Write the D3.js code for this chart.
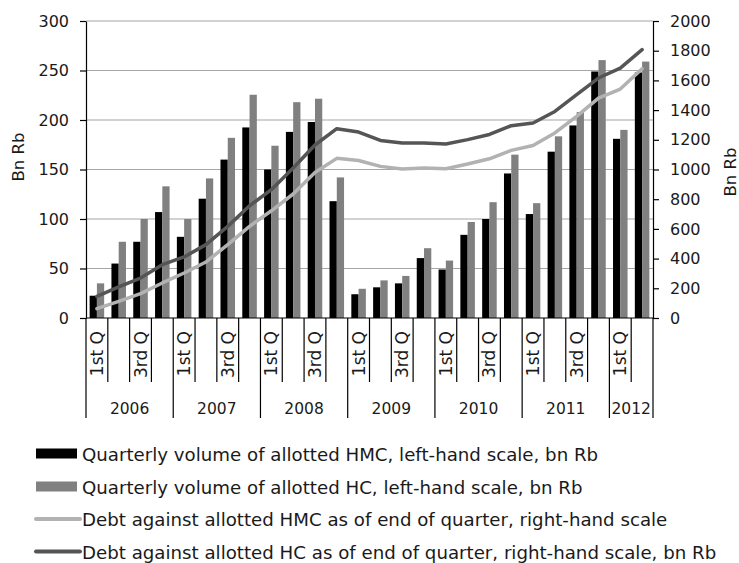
<!DOCTYPE html>
<html>
<head>
<meta charset="utf-8">
<script src="https://cdn.jsdelivr.net/npm/d3@7"></script>
<style>
  html, body { margin: 0; padding: 0; background: #fff; }
  svg { display: block; }
  text { font-family: "DejaVu Sans", sans-serif; fill: #1a1a1a; }
</style>
</head>
<body>
<script>
// Quarters 2006 Q1 .. 2012 Q2
const years = ["2006", "2007", "2008", "2009", "2010", "2011", "2012"];
const quartersPerYear = [4, 4, 4, 4, 4, 4, 2];
const quarterLabels = ["1st Q", "", "3rd Q", ""];

// Quarterly volume of allotted HMC, bn Rb (left scale)
const hmcVolume = [22.5, 55, 77, 107, 82, 120.5, 160, 192.5,
                   150, 188, 198, 118, 24, 31, 35, 60.5,
                   49, 84, 100, 146, 105, 168, 194.5, 249,
                   181, 248];
// Quarterly volume of allotted HC, bn Rb (left scale)
const hcVolume = [35, 77, 100, 133, 100, 141, 182, 225.5,
                  174, 218, 221.5, 142, 29.5, 38, 42.5, 70.5,
                  58, 97, 117, 165, 116, 183.5, 208, 260.5,
                  190, 259];
// Debt against allotted HMC, end of quarter, bn Rb (right scale)
const hmcDebt = [63, 112, 164, 236, 303, 377, 494, 617,
                 722, 835, 980, 1075, 1061, 1021, 1003, 1010,
                 1005, 1037, 1072, 1129, 1162, 1246, 1358, 1481,
                 1542, 1679];
// Debt against allotted HC, end of quarter, bn Rb (right scale)
const hcDebt = [145, 209, 269, 359, 411, 494, 617, 756,
                864, 1010, 1165, 1275, 1252, 1196, 1178, 1178,
                1172, 1201, 1236, 1295, 1313, 1391, 1504, 1616,
                1683, 1807];

const leftTicks = [0, 50, 100, 150, 200, 250, 300];
const rightTicks = [0, 200, 400, 600, 800, 1000, 1200, 1400, 1600, 1800, 2000];

const legendItems = [
  { label: "Quarterly volume of allotted HMC, left-hand scale, bn Rb", type: "rect", color: "#000000" },
  { label: "Quarterly volume of allotted HC, left-hand scale, bn Rb", type: "rect", color: "#808080" },
  { label: "Debt against allotted HMC as of end of quarter, right-hand scale", type: "line", color: "#b2b2b2" },
  { label: "Debt against allotted HC as of end of quarter, right-hand scale, bn Rb", type: "line", color: "#555555" }
];

// Build the quarter list
const quarters = [];
years.forEach((y, yi) => {
  for (let q = 0; q < quartersPerYear[yi]; q++) {
    quarters.push({ year: y, q: q, label: quarterLabels[q] });
  }
});
quarters.forEach((d, i) => {
  d.i = i;
  d.hmcVol = hmcVolume[i];
  d.hcVol = hcVolume[i];
  d.hmcDebt = hmcDebt[i];
  d.hcDebt = hcDebt[i];
});

const W = 739, H = 563;
const plot = { left: 86, right: 653, top: 21, bottom: 318 };

const svg = d3.select("body").append("svg")
  .attr("width", W).attr("height", H);

const x = d3.scaleBand()
  .domain(quarters.map(d => d.i))
  .range([plot.left, plot.right])
  .paddingInner(0).paddingOuter(0);

const xInner = d3.scaleBand()
  .domain(["hmc", "hc"])
  .range([0, x.bandwidth()])
  .paddingInner(0).paddingOuter(0.5);

const yL = d3.scaleLinear().domain([0, 300]).range([plot.bottom, plot.top]);
const yR = d3.scaleLinear().domain([0, 2000]).range([plot.bottom, plot.top]);

// Gridlines
svg.append("g")
  .selectAll("line")
  .data(leftTicks.filter(t => t > 0))
  .join("line")
  .attr("x1", plot.left).attr("x2", plot.right)
  .attr("y1", d => yL(d)).attr("y2", d => yL(d))
  .attr("stroke", "#a6a6a6").attr("stroke-width", 1.2);

// Bars
const barColors = { hmc: "#000000", hc: "#808080" };
const barG = svg.append("g");
quarters.forEach(d => {
  [["hmc", d.hmcVol], ["hc", d.hcVol]].forEach(([k, v]) => {
    barG.append("rect")
      .attr("x", x(d.i) + xInner(k))
      .attr("width", xInner.bandwidth())
      .attr("y", yL(v))
      .attr("height", yL(0) - yL(v))
      .attr("fill", barColors[k]);
  });
});

// Debt lines
const cx = d => x(d.i) + x.bandwidth() / 2;
const lineHmc = d3.line().x(cx).y(d => yR(d.hmcDebt));
const lineHc = d3.line().x(cx).y(d => yR(d.hcDebt));
svg.append("path").datum(quarters).attr("d", lineHmc)
  .attr("fill", "none").attr("stroke", "#b2b2b2").attr("stroke-width", 3.5)
  .attr("stroke-linejoin", "round").attr("stroke-linecap", "round");
svg.append("path").datum(quarters).attr("d", lineHc)
  .attr("fill", "none").attr("stroke", "#555555").attr("stroke-width", 3.5)
  .attr("stroke-linejoin", "round").attr("stroke-linecap", "round");

// Left axis
const leftAxis = d3.axisLeft(yL).tickValues(leftTicks).tickFormat(d3.format("d"))
  .tickSizeInner(6).tickSizeOuter(0).tickPadding(11);
const gL = svg.append("g").attr("transform", `translate(${plot.left},0)`).call(leftAxis);
gL.select(".domain").attr("stroke", "#000").attr("stroke-width", 1.2);
gL.selectAll(".tick line").attr("stroke", "#000").attr("stroke-width", 1.2);
gL.selectAll(".tick text").style("font-size", "16px").attr("fill", "#1a1a1a");

// Right axis
const rightAxis = d3.axisRight(yR).tickValues(rightTicks).tickFormat(d3.format("d"))
  .tickSizeInner(6).tickSizeOuter(0).tickPadding(11);
const gR = svg.append("g").attr("transform", `translate(${plot.right},0)`).call(rightAxis);
gR.select(".domain").attr("stroke", "#000").attr("stroke-width", 1.2);
gR.selectAll(".tick line").attr("stroke", "#000").attr("stroke-width", 1.2);
gR.selectAll(".tick text").style("font-size", "16px").attr("fill", "#1a1a1a");

// Category axis: baseline, quarter separators, year separators
const catG = svg.append("g");
catG.append("line")
  .attr("x1", plot.left).attr("x2", plot.right)
  .attr("y1", plot.bottom).attr("y2", plot.bottom)
  .attr("stroke", "#000").attr("stroke-width", 1.2);

const boundaries = d3.range(quarters.length + 1);
const bx = i => (i < quarters.length ? x(i) : x(quarters.length - 1) + x.bandwidth());
const yearStarts = [];
let acc = 0;
quartersPerYear.forEach(n => { yearStarts.push(acc); acc += n; });
yearStarts.push(acc);

catG.selectAll("line.sep")
  .data(boundaries)
  .join("line")
  .attr("class", "sep")
  .attr("x1", d => bx(d)).attr("x2", d => bx(d))
  .attr("y1", plot.bottom)
  .attr("y2", d => (yearStarts.includes(d) ? 418 : 382))
  .attr("stroke", "#000").attr("stroke-width", 1.2);

// Quarter labels (rotated)
catG.selectAll("text.q")
  .data(quarters.filter(d => d.label))
  .join("text")
  .attr("class", "q")
  .attr("transform", d => `translate(${cx(d) + 6},331) rotate(-90)`)
  .attr("text-anchor", "end")
  .style("font-size", "17px")
  .text(d => d.label);

// Year labels
catG.selectAll("text.yr")
  .data(years)
  .join("text")
  .attr("class", "yr")
  .attr("x", (d, i) => (bx(yearStarts[i]) + bx(yearStarts[i + 1])) / 2)
  .attr("y", 414)
  .attr("text-anchor", "middle")
  .style("font-size", "15.5px")
  .text(d => d);

// Axis titles
svg.append("text")
  .attr("transform", "translate(24,157) rotate(-90)")
  .attr("text-anchor", "middle")
  .style("font-size", "16.5px")
  .text("Bn Rb");
svg.append("text")
  .attr("transform", "translate(736,172) rotate(-90)")
  .attr("text-anchor", "middle")
  .style("font-size", "16.5px")
  .text("Bn Rb");

// Legend
const legend = svg.append("g");
const rowY = [453.5, 486.5, 519, 551.5];
legendItems.forEach((it, i) => {
  const g = legend.append("g").attr("transform", `translate(0,${rowY[i]})`);
  if (it.type === "rect") {
    g.append("rect").attr("x", 36).attr("y", -5).attr("width", 41).attr("height", 10).attr("fill", it.color);
  } else {
    g.append("line").attr("x1", 36).attr("x2", 80).attr("y1", 0).attr("y2", 0)
      .attr("stroke", it.color).attr("stroke-width", 4).attr("stroke-linecap", "round");
  }
  g.append("text").attr("x", 82).attr("y", 7).style("font-size", "18.2px").text(it.label);
});
</script>
</body>
</html>
